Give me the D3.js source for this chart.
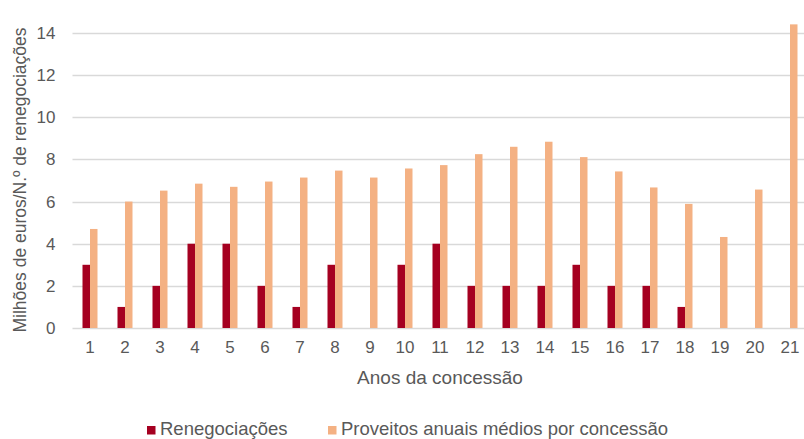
<!DOCTYPE html>
<html>
<head>
<meta charset="utf-8">
<script src="https://cdn.jsdelivr.net/npm/d3@7"></script>
<style>
	body { margin: 0; background: #fff; }
	text { font-family: "Liberation Sans", Arial, sans-serif; fill: #595959; }
</style>
</head>
<body>
<div id="chartDiv"></div>
<script>
;(function() {

	var years = ["1","2","3","4","5","6","7","8","9","10","11","12","13","14","15","16","17","18","19","20","21"];
	var renegociacoes = [3, 1, 2, 4, 4, 2, 1, 3, 0, 3, 4, 2, 2, 2, 3, 2, 2, 1, 0, 0, 0];
	var proveitos = [4.70, 6.0, 6.52, 6.85, 6.70, 6.95, 7.14, 7.47, 7.14, 7.57, 7.73, 8.25, 8.60, 8.84, 8.11, 7.43, 6.67, 5.89, 4.32, 6.57, 14.41];
	var yTicks = [0, 2, 4, 6, 8, 10, 12, 14];
	var seriesNames = ["Renegociações", "Proveitos anuais médios por concessão"];
	var colors = ["#A50021", "#F4B183"];

	var width = 804;
	var height = 439;
	var margin = { top: 33, right: -3.5, bottom: 111, left: 72.5 };
	var chartWidth = width - margin.left - margin.right;
	var chartHeight = height - margin.top - margin.bottom;

	var svg = d3.select("#chartDiv").append("svg")
		.attr("width", width)
		.attr("height", height);

	var plot = svg.append("g")
		.attr("transform", "translate(" + margin.left + "," + margin.top + ")");

	var xScale = d3.scaleBand()
		.domain(years)
		.range([0, chartWidth]);

	var barW = 7.5;
	var xInner = d3.scaleBand()
		.domain([0, 1])
		.range([xScale.bandwidth() / 2 - barW, xScale.bandwidth() / 2 + barW]);

	var yScale = d3.scaleLinear()
		.domain([0, 14])
		.range([chartHeight, 0]);

	// gridlines
	plot.selectAll(".grid")
		.data(yTicks)
		.enter().append("line")
		.attr("x1", 0)
		.attr("x2", chartWidth)
		.attr("y1", function(d) { return Math.round(yScale(d)) + 0.5; })
		.attr("y2", function(d) { return Math.round(yScale(d)) + 0.5; })
		.style("stroke", "#D9D9D9")
		.style("stroke-width", 1.3);

	// y axis
	var yAxis = d3.axisLeft(yScale).tickValues(yTicks).tickSize(0).tickPadding(17);
	plot.append("g")
		.call(yAxis)
		.call(function(g) { g.select(".domain").remove(); })
		.selectAll("text")
		.style("font-size", "17px")
		.style("fill", "#595959");

	// x axis
	var xAxis = d3.axisBottom(xScale).tickSize(0).tickPadding(13);
	plot.append("g")
		.attr("transform", "translate(0," + chartHeight + ")")
		.call(xAxis)
		.call(function(g) { g.select(".domain").remove(); })
		.selectAll("text")
		.style("font-size", "17px")
		.style("fill", "#595959");

	// bars
	var series = [renegociacoes, proveitos];
	series.forEach(function(vals, s) {
		plot.selectAll(".bar" + s)
			.data(vals)
			.enter().append("rect")
			.attr("class", "bar" + s)
			.attr("x", function(d, i) { return xScale(years[i]) + xInner(s); })
			.attr("width", xInner.bandwidth())
			.attr("y", function(d) { return yScale(d); })
			.attr("height", function(d) { return chartHeight - yScale(d); })
			.style("fill", colors[s]);
	});

	// axis titles
	svg.append("text")
		.attr("text-anchor", "middle")
		.attr("transform", "translate(" + 26 + "," + 180 + ") rotate(-90)")
		.style("font-size", "17.5px")
		.text("Milhões de euros/N.º de renegociações");

	svg.append("text")
		.attr("text-anchor", "middle")
		.attr("x", 440)
		.attr("y", 384)
		.style("font-size", "19px")
		.text("Anos da concessão");

	// legend
	var legendX = [147, 328];
	var legend = svg.selectAll(".legend")
		.data(seriesNames)
		.enter().append("g")
		.attr("transform", function(d, i) { return "translate(" + legendX[i] + ",435)"; });
	legend.append("rect")
		.attr("x", 0)
		.attr("y", -9)
		.attr("width", 8.5)
		.attr("height", 8.5)
		.style("fill", function(d, i) { return colors[i]; });
	legend.append("text")
		.attr("x", 13)
		.attr("y", 0)
		.style("font-size", "18.5px")
		.text(function(d) { return d; });

})();
</script>
</body>
</html>
